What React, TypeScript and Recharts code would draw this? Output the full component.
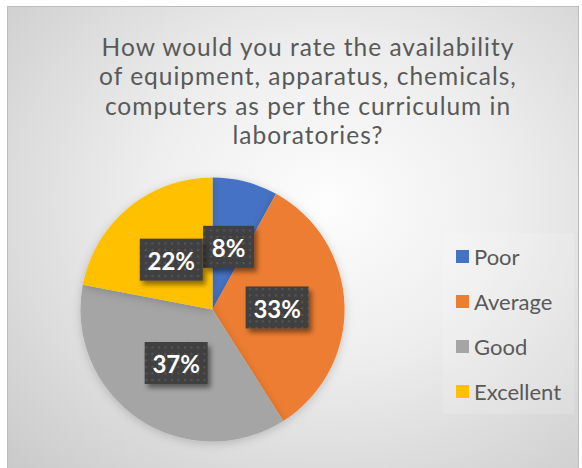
import { PieChart, Pie, Cell, Legend } from "recharts";

const categories = ["Poor", "Average", "Good", "Excellent"];
const shares = [8, 33, 37, 22];
const colors = ["#4472C4", "#ED7D31", "#A5A5A5", "#FFC000"];
const titleLines = [
  "How would you rate the availability",
  "of equipment, apparatus, chemicals,",
  "computers as per the curriculum in",
  "laboratories?",
];

const FONT = "Lato, 'Open Sans', sans-serif";
const TEXT = "#595959";
const RADIAN = Math.PI / 180;

const data = categories.map((name, i) => ({ name, value: shares[i] }));

const renderLabel = (props: any) => {
  const { cx, cy, midAngle, outerRadius, percent } = props;
  const r = outerRadius * 0.49;
  const x = cx + r * Math.cos(-midAngle * RADIAN);
  const y = cy + r * Math.sin(-midAngle * RADIAN);
  const text = `${Math.round(percent * 100)}%`;
  const w = text.length > 2 ? 63 : 51;
  const h = 42;
  return (
    <g>
      <rect
        x={x - w / 2}
        y={y - h / 2}
        width={w}
        height={h}
        fill="url(#dots)"
        filter="url(#boxShadow)"
      />
      <text
        x={x}
        y={y + 1}
        textAnchor="middle"
        dominantBaseline="central"
        fill="#fff"
        fontFamily={FONT}
        fontWeight={700}
        fontSize={24}
      >
        {text}
      </text>
    </g>
  );
};

const renderLegend = () => (
  <div style={{ position: "relative", width: "100%", height: "100%" }}>
    {categories.map((name, i) => (
      <div
        key={name}
        style={{
          position: "absolute",
          left: 13,
          top: 23 + i * 45.3 - 13,
          height: 26,
          display: "flex",
          alignItems: "center",
          fontFamily: FONT,
          fontSize: 22,
          color: TEXT,
        }}
      >
        <span
          style={{
            display: "inline-block",
            width: 13,
            height: 13,
            background: colors[i],
            marginRight: 5,
          }}
        />
        {name}
      </div>
    ))}
  </div>
);

export default function App() {
  return (
    <div style={{ position: "absolute", left: 0, top: 0, width: 582, height: 468, background: "#fff" }}>
      {/* chart area background */}
      <div
        style={{
          position: "absolute",
          left: 7,
          top: 6,
          width: 572,
          height: 470,
          boxSizing: "border-box",
          border: "1px solid #bdbdbd",
          background:
            "radial-gradient(ellipse farthest-corner at 56% 42%, #fdfdfd 0%, #eeeeee 40%, #c9c9c9 100%)",
        }}
      />
      <svg width={582} height={468} style={{ position: "absolute", left: 0, top: 0 }}>
        <defs>
          <pattern id="dots" width={6.5} height={6.5} patternUnits="userSpaceOnUse">
            <rect width={6.5} height={6.5} fill="#404040" />
            <rect x={2} y={2} width={2} height={2} fill="#575757" />
          </pattern>
          <filter id="boxShadow" x="-30%" y="-30%" width="170%" height="180%">
            <feDropShadow dx={3} dy={4} stdDeviation={2.5} floodColor="#000" floodOpacity={0.45} />
          </filter>
          <filter id="pieShadow" x="-20%" y="-20%" width="140%" height="140%">
            <feDropShadow dx={0} dy={2} stdDeviation={5} floodColor="#000" floodOpacity={0.18} />
          </filter>
        </defs>
        {titleLines.map((line, i) => (
          <text
            key={i}
            x={308}
            y={56 + i * 29.4}
            textAnchor="middle"
            fontFamily={FONT}
            fontSize={24.5}
            letterSpacing={1}
            fill={TEXT}
          >
            {line}
          </text>
        ))}
      </svg>
      <div style={{ position: "absolute", left: 0, top: 0 }}>
        <PieChart width={582} height={468}>
          <Pie
            data={data}
            dataKey="value"
            nameKey="name"
            cx={207.5}
            cy={304.5}
            outerRadius={132}
            startAngle={90}
            endAngle={-270}
            stroke="none"
            label={renderLabel}
            labelLine={false}
            isAnimationActive={false}
            style={{ filter: "url(#pieShadow)" }}
          >
            {data.map((d, i) => (
              <Cell key={d.name} fill={colors[i]} />
            ))}
          </Pie>
          <Legend
            content={renderLegend}
            wrapperStyle={{
              position: "absolute",
              left: 443,
              top: 233,
              width: 131,
              height: 181,
              background: "rgba(255,255,255,0.15)",
            }}
          />
        </PieChart>
      </div>
    </div>
  );
}
